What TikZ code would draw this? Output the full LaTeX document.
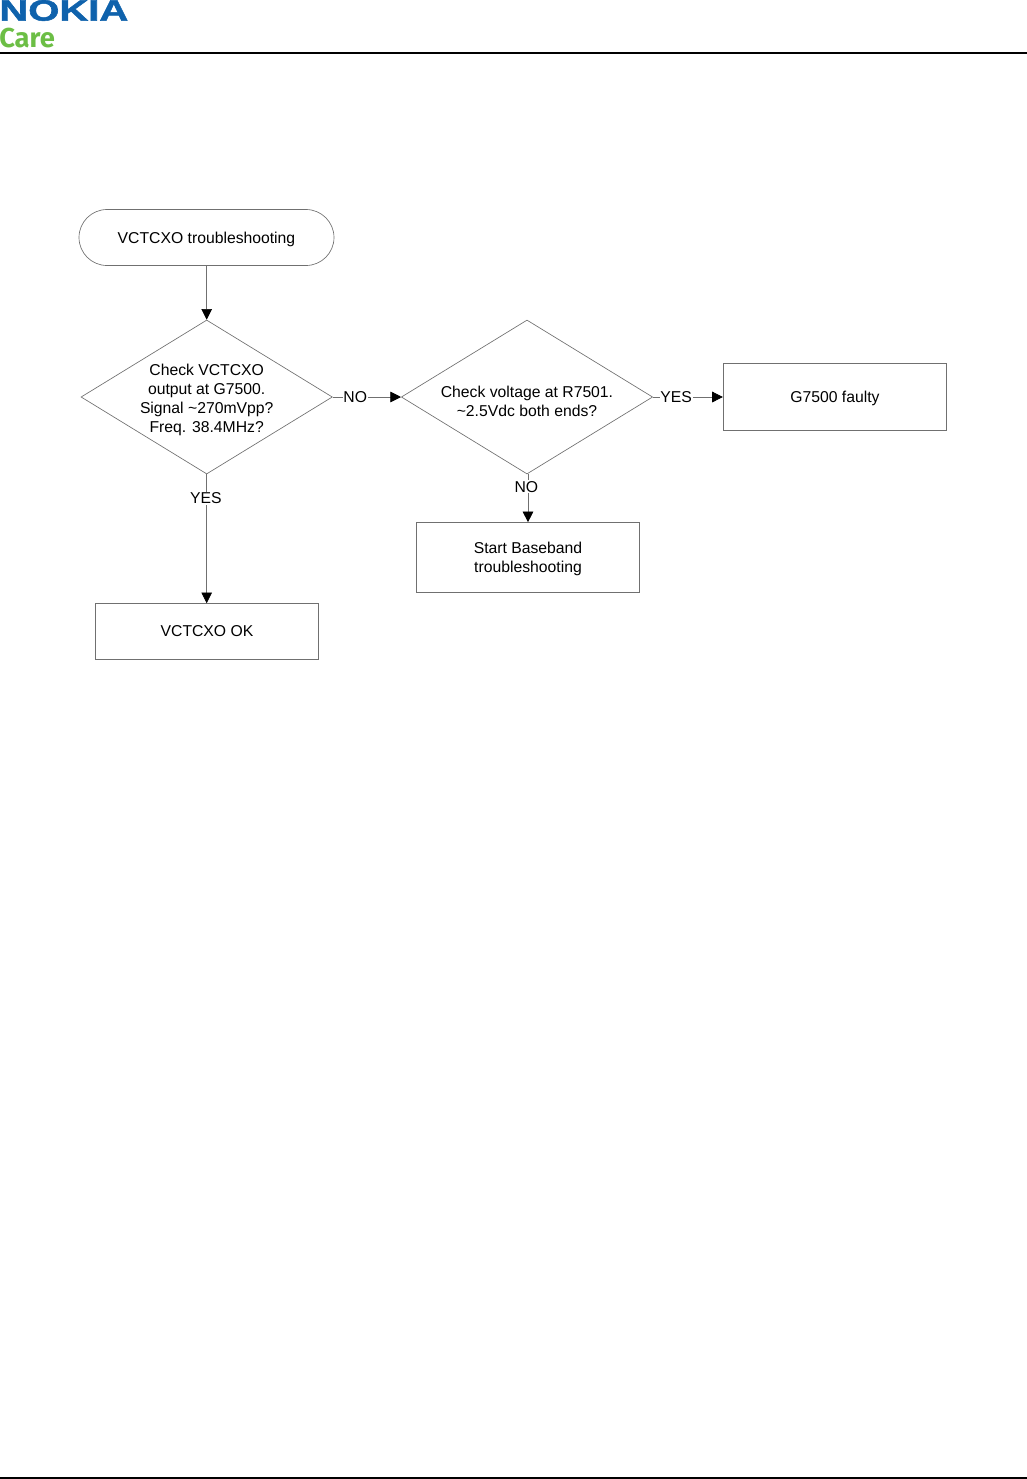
\documentclass[tikz,border=0pt]{standalone}
\usepackage{fontspec}
\setmainfont{Liberation Sans}
\newfontfamily\carefont{Fira Sans}
\newfontfamily\logofont[BoldFont=*,BoldFeatures={FakeBold=1.6}]{Liberation Sans Bold}
\usetikzlibrary{shapes.geometric,shapes.misc,arrows.meta}
\definecolor{nokiablue}{HTML}{0F62AC}
\definecolor{caregreen}{HTML}{6CBE45}
\definecolor{edge}{HTML}{707070}
\newcommand{\placed}[2]{\raisebox{-#1pt}[0pt][0pt]{\begin{tabular}{@{}c@{}}#2\end{tabular}}}
\tikzset{
  x=0.75pt,y=-0.75pt,
  every node/.style={font=\fontsize{11.8}{14.25}\selectfont,align=center,text=black,inner sep=0pt},
  flowbox/.style={draw=edge,line width=0.5pt,rectangle,minimum width=167.7pt},
  decision/.style={draw=edge,line width=0.5pt,diamond,aspect=1.63,minimum width=188.5pt,minimum height=115.5pt},
  terminal/.style={draw=edge,line width=0.5pt,rounded rectangle,minimum width=191.25pt,minimum height=42pt},
  link/.style={draw=edge,line width=0.5pt,-{Triangle[length=8pt,width=8pt,color=black]}},
  edgelabel/.style={fill=white,inner xsep=0.6pt,inner ysep=0.8pt},
  rulebar/.style={draw=black,line width=1.5pt}
}
\begin{document}
\begin{tikzpicture}
\useasboundingbox (0,0) rectangle (1027,1479);
% header
\node[anchor=west,text=nokiablue,font=\fontsize{20}{20}\logofont\bfseries,xscale=1.5,yscale=1.1] (logo) at (-1,10.5) {NOKIA};
\node[anchor=west,text=caregreen,font=\fontsize{20.5}{20.5}\selectfont\bfseries\carefont] (care) at (-1,38) {Care};
\coordinate (hl) at (0,53); \coordinate (hr) at (1027,53);
\draw[rulebar] (hl) -- (hr);
\coordinate (fl) at (0,1478); \coordinate (fr) at (1027,1478);
\draw[rulebar] (fl) -- (fr);
% nodes
\node[terminal] (start) at (206.5,237.5) {\placed{4.5}{VCTCXO troubleshooting}};
\node[decision] (d1) at (206.7,397) {\placed{5.5}{Check VCTCXO\\output at G7500.\\Signal \textasciitilde270mVpp?\\Freq. 38.4MHz?}};
\node[decision] (d2) at (527,397) {\placed{7.4}{Check voltage at R7501.\\\textasciitilde2.5Vdc both ends?}};
\node[flowbox,minimum height=50.6pt] (faulty) at (835,397) {\placed{4.4}{G7500 faulty}};
\node[flowbox,minimum height=52.5pt] (base) at (528,557.5) {\placed{4.4}{Start Baseband\\troubleshooting}};
\node[flowbox,minimum height=42pt] (ok) at (207,631.5) {\placed{4.1}{VCTCXO OK}};
% connectors
\draw[link] (start.south -| d1.north) -- (d1.north);
\draw[link] (d1) -- node[edgelabel,pos=0.33] {NO} (d2);
\draw[link] (d2) -- node[edgelabel,pos=0.33] {YES} (faulty);
\draw[link] (d1.south) -- node[edgelabel,pos=0.185,xshift=-0.7pt] {YES} (d1.south |- ok.north);
\draw[link] (d2.south -| base.north) -- node[edgelabel,pos=0.26,xshift=-1.2pt] {NO} (base.north);
\end{tikzpicture}
\end{document}
